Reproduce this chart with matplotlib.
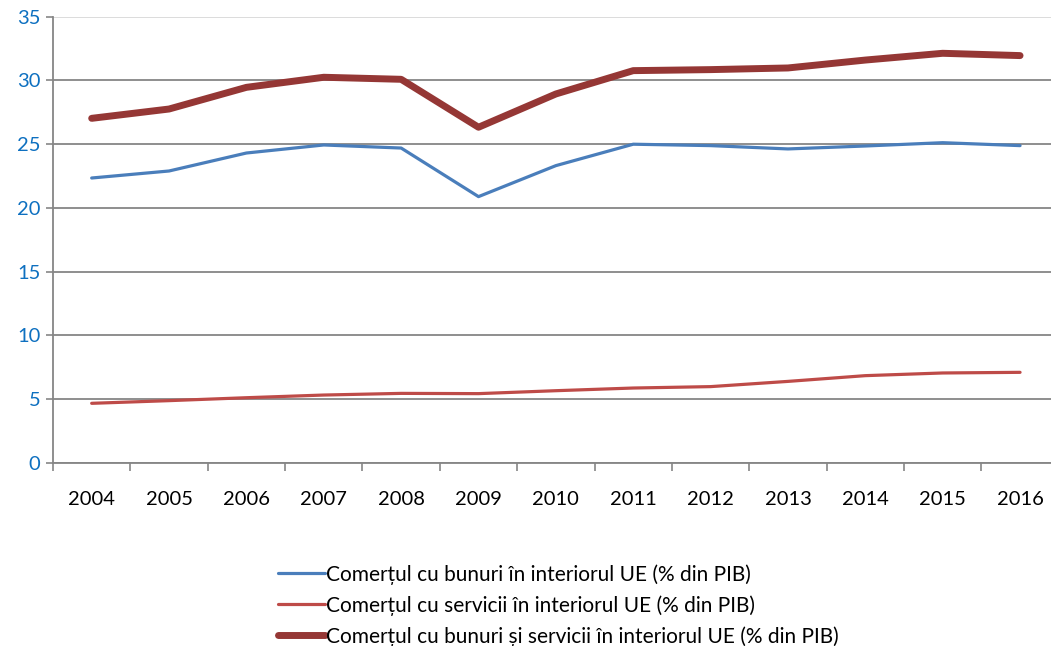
import matplotlib
matplotlib.use("Agg")
import matplotlib.pyplot as plt
import numpy as np

years = ["2004", "2005", "2006", "2007", "2008", "2009", "2010",
         "2011", "2012", "2013", "2014", "2015", "2016"]
goods = [22.35, 22.9, 24.31, 24.94, 24.7, 20.89, 23.32,
         25.0, 24.89, 24.63, 24.86, 25.12, 24.89]
services = [4.68, 4.89, 5.12, 5.33, 5.46, 5.44, 5.67,
            5.88, 5.99, 6.4, 6.85, 7.06, 7.11]
total = [27.03, 27.76, 29.46, 30.25, 30.09, 26.33, 28.94,
         30.77, 30.85, 30.98, 31.6, 32.13, 31.95]
labels = ["Comerțul cu bunuri în interiorul UE (% din PIB)",
          "Comerțul cu servicii în interiorul UE (% din PIB)",
          "Comerțul cu bunuri și servicii în interiorul UE (% din PIB)"]
yticks = [0, 5, 10, 15, 20, 25, 30, 35]

plt.rcParams['font.family'] = ['Lato', 'DejaVu Sans']

fig = plt.figure(figsize=(10.51, 6.46), dpi=100)
ax = fig.add_axes([53/1051, 1-463/646, 1-53/1051, (463-16.7)/646])

x = np.arange(len(years))
l1, = ax.plot(x, goods, color='#4A7EBB', lw=2.3, solid_capstyle='round', zorder=3)
l2, = ax.plot(x, services, color='#BE4B48', lw=2.3, solid_capstyle='round', zorder=3)
l3, = ax.plot(x, total, color='#953735', lw=5, solid_capstyle='round', zorder=3)

ax.set_xlim(-0.5, 12.4)
ax.set_ylim(0, 35)
for v in yticks:
    ax.axhline(v, color='#868686' if v < 35 else '#D9D9D9', lw=1.3, zorder=1)

ax.set_yticks(yticks)
ax.set_yticklabels([str(v) for v in yticks], color='#0E70C0', fontsize=14.5)
ax.tick_params(axis='y', direction='out', length=5, color='#868686', width=1.2, pad=4)

ax.set_xticks(x)
ax.set_xticklabels(years, fontsize=14.5)
ax.set_xticks(np.arange(-0.5, 12.5, 1), minor=True)
ax.tick_params(axis='x', which='major', length=0, pad=20)
ax.tick_params(axis='x', which='minor', direction='out', length=6, color='#868686', width=1.2)

for s in ['top', 'right']:
    ax.spines[s].set_visible(False)
ax.spines['left'].set_color('#868686')
ax.spines['left'].set_linewidth(1.3)
ax.spines['bottom'].set_color('#868686')
ax.spines['bottom'].set_linewidth(1.3)

fig.legend([l1, l2, l3], labels, loc='upper left',
           bbox_to_anchor=(278/1051, 1-564/646), frameon=False,
           fontsize=15, handlelength=2.25, handletextpad=0.05,
           labelspacing=0.5, borderpad=0, borderaxespad=0)

fig.savefig("out.png", dpi=100)
